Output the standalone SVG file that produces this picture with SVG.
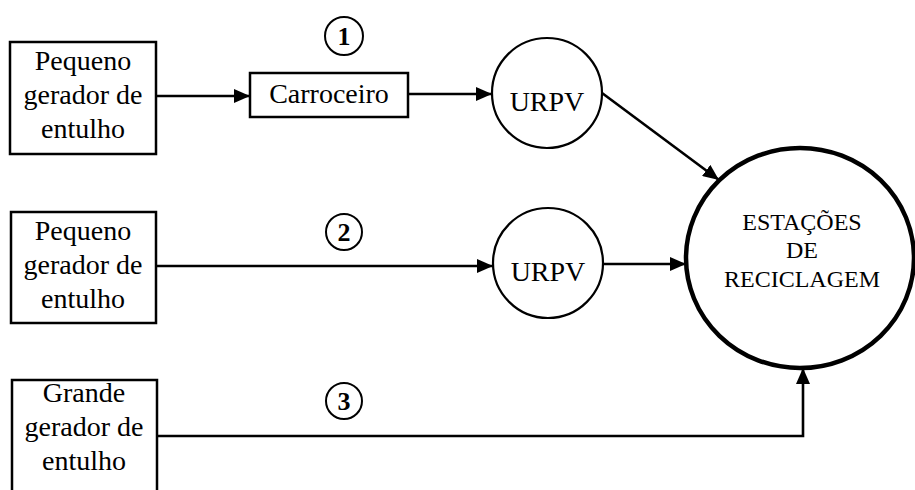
<svg xmlns="http://www.w3.org/2000/svg" width="915" height="490" viewBox="0 0 915 490">
<style>
.box{fill:#fff;stroke:#000;stroke-width:2.5}
.circ{fill:#fff;stroke:#000;stroke-width:2.2}
.big{fill:#fff;stroke:#000;stroke-width:4.5}
.num{fill:none;stroke:#000;stroke-width:2}
.t{font-size:28px;fill:#000;text-anchor:middle}
.ts{font-size:24px;fill:#000;text-anchor:middle}
.n{font-size:26px;font-weight:bold;fill:#000;text-anchor:middle}
.c{fill:none;stroke:#000;stroke-width:2.6}
</style>
<defs>
<marker id="ah" markerUnits="userSpaceOnUse" markerWidth="18" markerHeight="14" refX="16" refY="7" orient="auto">
<path d="M0,0 L16,7 L0,14 Z" fill="#000"/>
</marker>
</defs>
<g id="connectors">
<line class="c" x1="156" y1="96" x2="250" y2="96" marker-end="url(#ah)"/>
<line class="c" x1="408" y1="94" x2="492" y2="94" marker-end="url(#ah)"/>
<line class="c" x1="602" y1="93" x2="719" y2="180" marker-end="url(#ah)"/>
<line class="c" x1="156" y1="266" x2="493" y2="266" marker-end="url(#ah)"/>
<line class="c" x1="603" y1="264" x2="686" y2="264" marker-end="url(#ah)"/>
<polyline class="c" points="157,436 803,436 803,368" marker-end="url(#ah)"/>
</g>
<g font-family="'Liberation Serif', 'DejaVu Serif', serif">
<g id="gen1">
<rect class="box" x="10" y="42" width="146" height="112"/>
<text class="t" x="83" y="70">Pequeno</text>
<text class="t" x="83" y="104">gerador de</text>
<text class="t" x="83" y="138">entulho</text>
</g>
<g id="carroceiro">
<rect class="box" x="250" y="73" width="158" height="44"/>
<text class="t" x="329" y="103">Carroceiro</text>
</g>
<g id="urpv1">
<circle class="circ" cx="547" cy="93" r="55"/>
<text class="t" x="547" y="111">URPV</text>
</g>
<g id="label1">
<circle class="num" cx="344" cy="36" r="19"/>
<text class="n" x="344" y="45">1</text>
</g>
<g id="gen2">
<rect class="box" x="11" y="212" width="145" height="111"/>
<text class="t" x="83" y="240">Pequeno</text>
<text class="t" x="83" y="274">gerador de</text>
<text class="t" x="83" y="308">entulho</text>
</g>
<g id="label2">
<circle class="num" cx="344" cy="232" r="18"/>
<text class="n" x="344" y="241">2</text>
</g>
<g id="urpv2">
<circle class="circ" cx="548" cy="263" r="55"/>
<text class="t" x="548" y="281">URPV</text>
</g>
<g id="gen3">
<rect class="box" x="12" y="380" width="145" height="120"/>
<text class="t" x="84" y="402">Grande</text>
<text class="t" x="84" y="436">gerador de</text>
<text class="t" x="84" y="470">entulho</text>
</g>
<g id="label3">
<circle class="num" cx="344" cy="401" r="18"/>
<text class="n" x="344" y="410">3</text>
</g>
<g id="estacoes">
<ellipse class="big" cx="800" cy="258" rx="114" ry="110"/>
<text class="ts" x="802" y="230">ESTAÇÕES</text>
<text class="ts" x="802" y="258">DE</text>
<text class="ts" x="802" y="287">RECICLAGEM</text>
</g>
</g>
</svg>
